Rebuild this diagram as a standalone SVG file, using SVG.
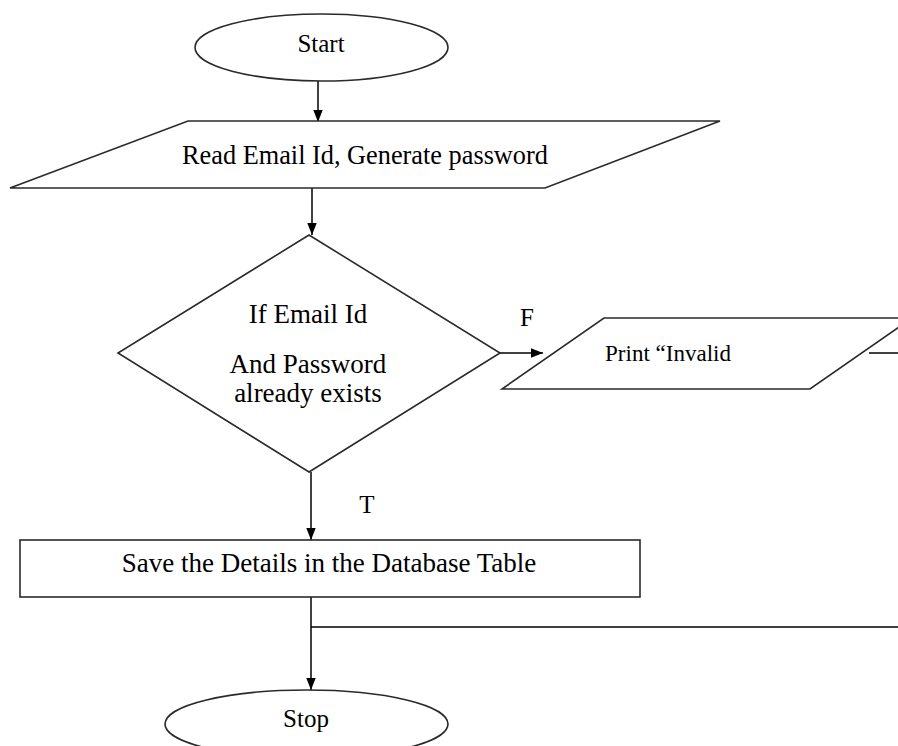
<svg xmlns="http://www.w3.org/2000/svg" width="898" height="746" viewBox="0 0 898 746">
  <style>
    .shape { fill: #ffffff; stroke: #2a2a2a; stroke-width: 1.6; }
    .line { fill: none; stroke: #000000; stroke-width: 1.5; }
    text { font-family: "Liberation Serif", "Times New Roman", serif; fill: #000000; text-anchor: middle; }
    .term { font-size: 25px; }
    .big { font-size: 27px; }
    .mid { font-size: 26.3px; }
    .small { font-size: 23px; }
  </style>
  <defs>
    <marker id="arrow" markerWidth="12" markerHeight="14" refX="14" refY="6" orient="auto" markerUnits="userSpaceOnUse" viewBox="0 0 14 12">
      <path d="M0,0.5 L14,6 L0,11.5 Z" fill="#000000"/>
    </marker>
  </defs>

  <rect width="898" height="746" fill="#ffffff"/>

  <!-- connectors -->
  <g id="connectors">
    <line class="line" x1="318" y1="81" x2="318" y2="122" marker-end="url(#arrow)"/>
    <line class="line" x1="312" y1="188" x2="312" y2="235" marker-end="url(#arrow)"/>
    <line class="line" x1="500" y1="353" x2="543" y2="353" marker-end="url(#arrow)"/>
    <line class="line" x1="311" y1="472" x2="311" y2="540" marker-end="url(#arrow)"/>
    <line class="line" x1="311" y1="597" x2="311" y2="690" marker-end="url(#arrow)"/>
    <line class="line" x1="311" y1="627" x2="898" y2="627"/>
    <line class="line" x1="869" y1="353" x2="898" y2="353"/>
    <text class="term" x="527" y="326">F</text>
    <text class="term" x="367" y="513">T</text>
  </g>

  <!-- start terminal -->
  <g id="start">
    <ellipse class="shape" cx="321.5" cy="47.5" rx="126.5" ry="33.5"/>
    <text class="term" x="321" y="52">Start</text>
  </g>

  <!-- input: email id and generated password -->
  <g id="read-input">
    <polygon class="shape" points="188,121 720,121 545,188 10,188"/>
    <text class="mid" x="365" y="164">Read Email Id, Generate password</text>
  </g>

  <!-- decision -->
  <g id="check-exists">
    <polygon class="shape" points="309,235 500,353 309,472 118,353"/>
    <text class="big" x="308" y="323">If Email Id</text>
    <text class="big" x="308" y="373">And Password</text>
    <text class="big" x="308" y="402">already exists</text>
  </g>

  <!-- output: invalid message -->
  <g id="print-invalid">
    <polygon class="shape" points="604,318 912,318 810,389 502,389"/>
    <text class="small" x="668" y="361">Print “Invalid</text>
  </g>

  <!-- save step -->
  <g id="save-details">
    <rect class="shape" x="20" y="540" width="620" height="57"/>
    <text class="big" x="329" y="572">Save the Details in the Database Table</text>
  </g>

  <!-- stop terminal -->
  <g id="stop">
    <ellipse class="shape" cx="306.5" cy="724" rx="141.5" ry="34"/>
    <text class="term" x="306" y="727">Stop</text>
  </g>
</svg>
